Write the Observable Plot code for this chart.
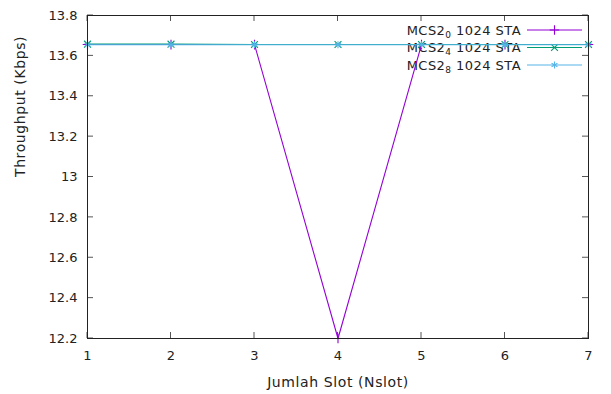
<!DOCTYPE html>
<html>
<head>
<meta charset="utf-8">
<script src="https://cdn.jsdelivr.net/npm/d3@7"></script>
<script src="https://cdn.jsdelivr.net/npm/@observablehq/plot@0.6"></script>
<style>
  html, body { margin: 0; padding: 0; background: #fff; }
  svg { font-family: "DejaVu Sans", sans-serif; }
</style>
</head>
<body>
<div id="chart"></div>
<script>
// Number of slots (x axis)
const slots = [1, 2, 3, 4, 5, 6, 7];
// Throughput (Kbps) for each configuration
const mcs0 = [13.656, 13.656, 13.656, 12.2, 13.656, 13.656, 13.656];
const mcs4 = [13.658, 13.658, 13.656, 13.656, 13.656, 13.656, 13.656];
const mcs8 = [13.655, 13.655, 13.655, 13.655, 13.655, 13.655, 13.655];
const seriesNames = ["MCS2_0 1024 STA", "MCS2_4 1024 STA", "MCS2_8 1024 STA"];
const seriesColors = ["#9400d3", "#009e73", "#56b4e9"];
const seriesSymbols = ["plus", "times", "asterisk"];
const yTicks = [12.2, 12.4, 12.6, 12.8, 13, 13.2, 13.4, 13.6, 13.8];

const seriesValues = [mcs0, mcs4, mcs8];
const ns = "http://www.w3.org/2000/svg";

function svgLine(x1, y1, x2, y2, stroke, width) {
  const l = document.createElementNS(ns, "line");
  l.setAttribute("x1", x1);
  l.setAttribute("x2", x2);
  l.setAttribute("y1", y1);
  l.setAttribute("y2", y2);
  l.setAttribute("stroke", stroke);
  l.setAttribute("stroke-width", width);
  return l;
}

// Inward tick marks on all four sides of the frame
function innerTicks(index, {x, y}, values, dims) {
  const g = document.createElementNS(ns, "g");
  const left = dims.marginLeft, right = dims.width - dims.marginRight;
  const top = dims.marginTop, bottom = dims.height - dims.marginBottom;
  const len = 6;
  for (const t of slots) {
    const px = x(t);
    g.appendChild(svgLine(px, bottom, px, bottom - len, "#555", 1));
    g.appendChild(svgLine(px, top, px, top + len, "#555", 1));
  }
  for (const t of yTicks) {
    const py = y(t);
    g.appendChild(svgLine(left, py, left + len, py, "#555", 1));
    g.appendChild(svgLine(right, py, right - len, py, "#555", 1));
  }
  return g;
}

// Key in the top-right corner of the frame, drawn beneath the data lines
function key(index, scales, values, dims) {
  const g = document.createElementNS(ns, "g");
  const right = dims.width - dims.marginRight;
  const top = dims.marginTop;
  seriesNames.forEach((name, i) => {
    const y = top + 15 + i * 17.5;
    // "MCS2_0 1024 STA": the digit after "_" is set as a subscript
    const [head, rest] = name.split("_");
    const t = document.createElementNS(ns, "text");
    t.setAttribute("x", right - 67);
    t.setAttribute("y", y + 4.5);
    t.setAttribute("text-anchor", "end");
    t.setAttribute("font-size", 13);
    t.setAttribute("letter-spacing", "0.45px");
    t.setAttribute("fill", "#222");
    const a = document.createElementNS(ns, "tspan");
    a.textContent = head;
    const b = document.createElementNS(ns, "tspan");
    b.setAttribute("font-size", 9);
    b.setAttribute("dy", 3);
    b.textContent = rest[0];
    const c = document.createElementNS(ns, "tspan");
    c.setAttribute("dy", -3);
    c.textContent = rest.slice(1);
    t.append(a, b, c);
    g.appendChild(t);
    g.appendChild(svgLine(right - 61, y, right - 6, y, seriesColors[i], 1.1));
    const cx = right - 33.5;
    const sym = d3.symbol(
      i === 0 ? d3.symbolPlus : i === 1 ? d3.symbolTimes : d3.symbolAsterisk, 32)();
    const p = document.createElementNS(ns, "path");
    p.setAttribute("d", sym);
    p.setAttribute("transform", `translate(${cx},${y})`);
    p.setAttribute("stroke", seriesColors[i]);
    p.setAttribute("fill", "none");
    p.setAttribute("stroke-width", 1.1);
    g.appendChild(p);
  });
  return g;
}

// Each series draws its line and then its points, in order
const seriesMarks = seriesValues.flatMap((vals, s) => {
  const data = vals.map((v, i) => ({slot: slots[i], value: v}));
  return [
    Plot.line(data, {x: "slot", y: "value", stroke: seriesColors[s], strokeWidth: 1.1}),
    Plot.dot(data, {x: "slot", y: "value", stroke: seriesColors[s], symbol: seriesSymbols[s], r: 3.2, strokeWidth: 1.1})
  ];
});

const chart = Plot.plot({
  width: 611,
  height: 394,
  marginLeft: 87,
  marginRight: 23,
  marginTop: 15,
  marginBottom: 56,
  style: {fontSize: "13px", color: "#222", background: "#fff"},
  x: {domain: [1, 7]},
  y: {domain: [12.2, 13.8]},
  marks: [
    Plot.axisX({ticks: slots, tickSize: 0, tickPadding: 12, tickFormat: d => d, label: null}),
    Plot.axisY({ticks: yTicks, tickSize: 0, tickPadding: 10, tickFormat: d => String(+d.toFixed(1)), label: null}),
    innerTicks,
    Plot.text(["Jumlah Slot (Nslot)"], {frameAnchor: "bottom", dy: 48, fill: "#222", fontSize: 14}),
    Plot.text(["Throughput (Kbps)"], {frameAnchor: "left", dx: -67, rotate: -90, fill: "#222", fontSize: 14}),
    key,
    ...seriesMarks,
    Plot.frame({stroke: "#222", strokeWidth: 1})
  ]
});
// letter spacing for the axis titles
chart.querySelectorAll("text").forEach(t => {
  if (t.textContent === "Jumlah Slot (Nslot)" || t.textContent === "Throughput (Kbps)") {
    t.setAttribute("letter-spacing", "0.6px");
  }
});
document.getElementById("chart").appendChild(chart);
</script>
</body>
</html>
